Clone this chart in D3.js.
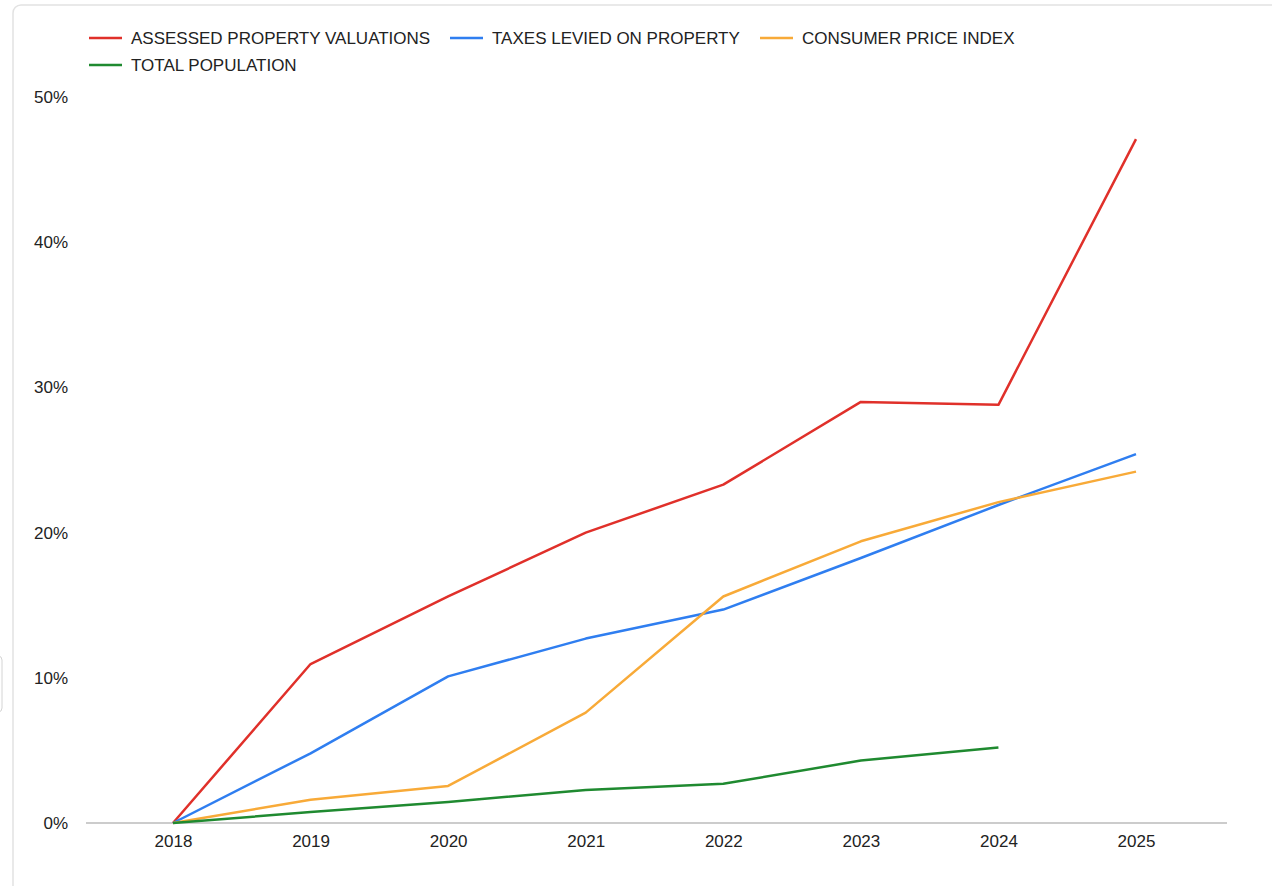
<!DOCTYPE html>
<html>
<head>
<meta charset="utf-8">
<script src="https://cdn.jsdelivr.net/npm/d3@7"></script>
<style>
  html, body { margin: 0; padding: 0; background: #fff; }
  svg { display: block; }
  text { font-family: "Liberation Sans", Arial, sans-serif; }
</style>
</head>
<body>
<svg id="chart" width="1272" height="886"></svg>
<script>
// Cumulative % change since 2018
const years = [2018, 2019, 2020, 2021, 2022, 2023, 2024, 2025];
const assessedValuations = [0, 10.95, 15.6, 20.0, 23.3, 29.0, 28.8, 47.1];
const taxesLevied       = [0, 4.8, 10.1, 12.7, 14.7, 18.25, 21.9, 25.4];
const consumerPrice     = [0, 1.6, 2.55, 7.6, 15.6, 19.4, 22.1, 24.2];
const totalPopulation   = [0, 0.75, 1.45, 2.27, 2.7, 4.3, 5.2, null];
const yTicks = [0, 10, 20, 30, 40, 50];

const seriesNames  = ["ASSESSED PROPERTY VALUATIONS", "TAXES LEVIED ON PROPERTY", "CONSUMER PRICE INDEX", "TOTAL POPULATION"];
const seriesValues = [assessedValuations, taxesLevied, consumerPrice, totalPopulation];
const seriesColors = ["#e0302a", "#2f7ef0", "#f8aa38", "#1f8a30"];

const svg = d3.select("#chart");

// card frame
svg.append("rect")
  .attr("x", 13).attr("y", 5).attr("width", 1290).attr("height", 920)
  .attr("rx", 8).attr("fill", "#fff")
  .attr("stroke", "#e2e2e2").attr("stroke-width", 1.5);
svg.append("rect")
  .attr("x", -20).attr("y", 656).attr("width", 22).attr("height", 56)
  .attr("rx", 4).attr("fill", "#fff")
  .attr("stroke", "#d4d4d4").attr("stroke-width", 1);

const x = d3.scaleLinear().domain([2018, 2025]).range([173, 1136]);
const y = d3.scaleLinear().domain([0, 50]).range([823, 97]);

const labelFont = "'Liberation Sans', Arial, sans-serif";

// y axis labels
const yAxis = d3.axisLeft(y).tickValues(yTicks).tickFormat(d => d + "%").tickSize(0).tickPadding(0);
const yg = svg.append("g").attr("transform", "translate(68,0)").call(yAxis);
yg.select(".domain").remove();
yg.selectAll("text").attr("font-size", 17).attr("fill", "#222").attr("font-family", labelFont);

// x axis
const xAxis = d3.axisBottom(x).tickValues(years).tickFormat(d3.format("d")).tickSize(0).tickPadding(12);
const xg = svg.append("g").attr("transform", "translate(0,823)").call(xAxis);
xg.select(".domain").remove();
xg.selectAll("text").attr("font-size", 17).attr("fill", "#222").attr("font-family", labelFont);
svg.append("line")
  .attr("x1", 86).attr("x2", 1227).attr("y1", y(0)).attr("y2", y(0))
  .attr("stroke", "#cccccc").attr("stroke-width", 2);

// series lines
const line = d3.line()
  .defined(d => d.v !== null)
  .x(d => x(d.year)).y(d => y(d.v));

seriesValues.forEach((vals, i) => {
  svg.append("path")
    .datum(years.map((yr, j) => ({ year: yr, v: vals[j] })))
    .attr("fill", "none")
    .attr("stroke", seriesColors[i])
    .attr("stroke-width", 2.5)
    .attr("stroke-linejoin", "round")
    .attr("d", line);
});

// legend
const legendPos = [[89, 38], [450, 38], [760, 38], [89, 65]];
seriesNames.forEach((name, i) => {
  const [lx, ly] = legendPos[i];
  const g = svg.append("g").attr("transform", `translate(${lx},${ly})`);
  g.append("line").attr("x1", 0).attr("x2", 33).attr("y1", 0).attr("y2", 0)
    .attr("stroke", seriesColors[i]).attr("stroke-width", 2.5);
  g.append("text").attr("x", 42).attr("y", 6)
    .attr("font-size", 17).attr("fill", "#222")
    .text(name);
});
</script>
</body>
</html>
